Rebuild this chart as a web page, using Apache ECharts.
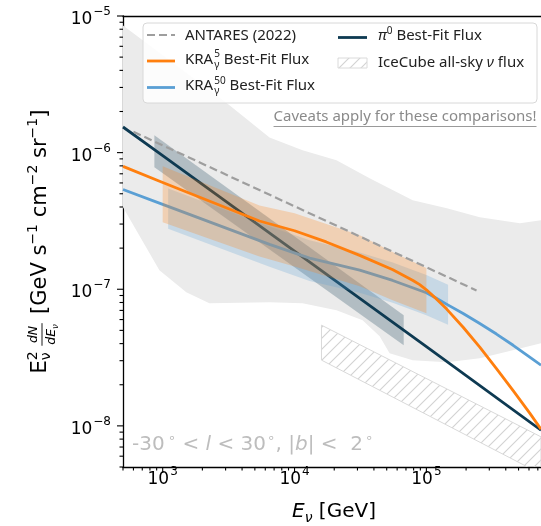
<!DOCTYPE html>
<html><head><meta charset="utf-8">
<script src="https://cdn.jsdelivr.net/npm/echarts@6.0.0/dist/echarts.min.js"></script>
<style>html,body{margin:0;padding:0;background:#fff;}#c{width:541px;height:526px;}</style>
</head><body><div id="c"></div>
<script>
// ---- axis ranges and tick labels ----
const X_MIN = 500, X_MAX = 7.4e5, Y_MIN = 5e-9, Y_MAX = 1e-5;
const xTickValues = [1e3, 1e4, 1e5];
const xTickExps = ['3', '4', '5'];
const yTickValues = [1e-8, 1e-7, 1e-6, 1e-5];
const yTickExps = ['\u22128', '\u22127', '\u22126', '\u22125'];

// ---- best-fit lines ----
const antaresE = [600, 2.4e5];
const antaresF = [1.42e-6, 9.8e-8];
const pi0E = [500, 1e3, 1e4, 1e5, 7.4e5];
const pi0F = [1.54e-6, 9.5e-7, 1.9e-7, 3.8e-8, 9.3e-9];
const kra5E = [500, 1e3, 5.42e3, 1e4, 1.74e4, 3.12e4, 5.57e4, 7.91e4, 8.9e4, 1e5, 1.19e5, 1.42e5, 1.9e5, 2.54e5, 3.4e5, 4.55e5, 6.08e5, 7.4e5];
const kra5F = [7.93e-7, 6.05e-7, 3.16e-7, 2.68e-7, 2.22e-7, 1.77e-7, 1.39e-7, 1.16e-7, 1.08e-7, 9.91e-8, 8.5e-8, 7.19e-8, 5.27e-8, 3.77e-8, 2.62e-8, 1.81e-8, 1.24e-8, 9.46e-9];
const kra50E = [500, 1e3, 6.46e3, 1.3e4, 3.12e4, 5.55e4, 1e5, 1.19e5, 1.42e5, 1.9e5, 2.54e5, 3.4e5, 4.55e5, 6.08e5, 7.4e5];
const kra50F = [5.37e-7, 4.18e-7, 2.13e-7, 1.69e-7, 1.38e-7, 1.16e-7, 9.42e-8, 8.6e-8, 7.78e-8, 6.64e-8, 5.61e-8, 4.70e-8, 3.89e-8, 3.18e-8, 2.78e-8];

// ---- uncertainty bands ----
const pi0BandE = [865, 6.73e4];
const pi0BandHi = [1.34e-6, 6.46e-8];
const pi0BandLo = [7.8e-7, 3.89e-8];
const kra5BandE = [1e3, 5.42e3, 1e4, 3.12e4, 5.55e4, 1e5];
const kra5BandHi = [7.94e-7, 4.11e-7, 3.6e-7, 2.48e-7, 1.87e-7, 1.43e-7];
const kra5BandLo = [3.09e-7, 1.74e-7, 1.47e-7, 1.05e-7, 8.3e-8, 6.67e-8];
const kra50BandE = [1.1e3, 6.46e3, 1.3e4, 3.12e4, 5.55e4, 1e5, 1.46e5];
const kra50BandHi = [5.46e-7, 2.88e-7, 2.28e-7, 1.86e-7, 1.57e-7, 1.27e-7, 1.08e-7];
const kra50BandLo = [2.77e-7, 1.46e-7, 1.15e-7, 9.42e-8, 7.96e-8, 6.44e-8, 5.5e-8];
const iceE = [1.6e4, 7.4e5];
const iceHi = [5.46e-8, 8.31e-9];
const iceLo = [3.03e-8, 4.45e-9];

// ---- grey envelope ----
const envHiE = [500, 3.21e3, 6.46e3, 1.15e4, 2.08e4, 3.71e4, 7.87e4, 1.43e5, 2.54e5, 5.11e5, 7.4e5];
const envHiF = [8.53e-6, 2.22e-6, 1.29e-6, 1.04e-6, 8.79e-7, 6.49e-7, 4.48e-7, 3.92e-7, 3.37e-7, 3.04e-7, 3.2e-7];
const envLoE = [500, 944, 1.51e3, 2.26e3, 6.46e3, 1.15e4, 2.08e4, 3.28e4, 4.42e4, 5.26e4, 7.87e4, 1.43e5, 2.54e5, 4.52e5, 7.4e5];
const envLoF = [3.98e-7, 1.38e-7, 9.51e-8, 7.91e-8, 8.04e-8, 7.91e-8, 7.02e-8, 5.93e-8, 4.53e-8, 3.4e-8, 3.02e-8, 2.92e-8, 3.13e-8, 3.58e-8, 4.03e-8];

// ---- colours ----
const C_ORANGE = '#ff7f0e', C_BLUE = '#5a9fd4', C_DARK = '#0e3a52', C_ANT = '#9e9e9e';

const MATH = '"DejaVu Sans"', LEG = '"Noto Sans"';
const mctx = document.createElement('canvas').getContext('2d');
function fontStr(size, italic, fam) { return (italic ? 'italic ' : '') + size + 'px ' + fam; }
function tw(t, f) { mctx.font = f; return mctx.measureText(t).width; }
function txt(x, y, t, f, fill, align) {
  return { type: 'text', x: x, y: y, z: 100, silent: true,
    style: { text: t, font: f, fill: fill, align: align || 'left', verticalAlign: 'middle',
      textAlign: align || 'left', textVerticalAlign: 'middle' } };
}
// lay out pieces on a common baseline (y=0)
function mathRow(pieces, fam, color) {
  let cur = 0, lastStart = 0; const els = [];
  pieces.forEach(p => {
    if (p.gap) { cur += p.gap; return; }
    if (p.frac) {
      const fn = fontStr(p.size, true, fam), fs = fontStr(p.subSize, true, fam);
      const wn = tw(p.num, fn), wd = tw(p.den, fn) + tw(p.sub, fs);
      const W = Math.max(wn, wd) + 3;
      els.push(txt(cur + (W - wn) / 2, p.numBase - 0.35 * p.size, p.num, fn, color));
      const dx = cur + (W - wd) / 2;
      els.push(txt(dx, p.denBase - 0.35 * p.size, p.den, fn, color));
      els.push(txt(dx + tw(p.den, fn), p.denBase + 2.5 - 0.35 * p.subSize, p.sub, fs, color));
      els.push({ type: 'line', z: 100, silent: true, shape: { x1: cur + 0.5, y1: p.bar, x2: cur + W - 0.5, y2: p.bar }, style: { stroke: color, lineWidth: 0.9 } });
      cur += W; lastStart = cur; return;
    }
    const f = fontStr(p.size, p.italic, fam);
    const w = tw(p.t, f);
    const x = p.stack ? lastStart : cur;
    if (!p.stack) lastStart = cur;
    els.push(txt(x, (p.dy || 0) - 0.35 * p.size, p.t, f, color));
    cur = Math.max(cur, x + w);
  });
  return { els, width: cur };
}
function shift(els, dx, dy) {
  els.forEach(e => {
    if (e.type === 'line') { e.shape.x1 += dx; e.shape.x2 += dx; e.shape.y1 += dy; e.shape.y2 += dy; }
    else { e.x += dx; e.y += dy; }
  });
  return els;
}

// hatch pattern
const hatch = document.createElement('canvas'); hatch.width = 11; hatch.height = 11;
(function () { const g = hatch.getContext('2d'); g.strokeStyle = '#d2d2d2'; g.lineWidth = 1.1;
  g.beginPath(); g.moveTo(-1, 12); g.lineTo(12, -1); g.moveTo(-6.5, 6.5); g.lineTo(6.5, -6.5); g.moveTo(4.5, 17.5); g.lineTo(17.5, 4.5); g.stroke(); })();
const HATCH = { image: hatch, repeat: 'repeat' };

function polySeries(name, hiE, hiF, loE, loF, style, z) {
  const pts = hiE.map((e, i) => [e, hiF[i]]).concat(loE.map((e, i) => [e, loF[i]]).reverse());
  return { type: 'custom', name, z, silent: true, clip: true, coordinateSystem: 'cartesian2d', data: pts,
    renderItem(params, api) {
      if (params.dataIndex !== 0) return null;
      return { type: 'polygon', shape: { points: pts.map(p => api.coord(p)) }, style };
    } };
}
function lineSeries(name, E, F, color, z, extra) {
  return Object.assign({ type: 'line', name, data: E.map((e, i) => [e, F[i]]), symbol: 'none', showSymbol: false,
    smooth: false, lineStyle: { color, width: 2.8, join: 'round' }, z, silent: true, clip: true }, extra || {});
}

// ticks
function minorTicks(min, max) {
  const out = [];
  for (let k = Math.floor(Math.log10(min)) - 1; k <= Math.ceil(Math.log10(max)); k++)
    for (let m = 2; m <= 9; m++) { const v = m * Math.pow(10, k); if (v >= min * 0.9999 && v <= max * 1.0001) out.push(v); }
  return out;
}
const tickData = [];
xTickValues.forEach(v => tickData.push([v, Y_MIN, 0]));
minorTicks(X_MIN, X_MAX).forEach(v => tickData.push([v, Y_MIN, 1]));
yTickValues.forEach(v => tickData.push([X_MIN, v, 2]));
minorTicks(Y_MIN, Y_MAX).forEach(v => tickData.push([X_MIN, v, 3]));

const labelData = [];
xTickValues.forEach((v, i) => labelData.push([v, Y_MIN, 0, i]));
yTickValues.forEach((v, i) => labelData.push([X_MIN, v, 1, i]));

const F10 = fontStr(17, false, MATH), FEXP = fontStr(12, false, MATH);

const series = [
  polySeries('envelope', envHiE, envHiF, envLoE, envLoF, { fill: '#ebebeb' }, 1),
  polySeries('IceCube all-sky', iceE, iceHi, iceE, iceLo, { fill: HATCH, stroke: '#d9d9d9', lineWidth: 1 }, 2),
  polySeries('pi0 band', pi0BandE, pi0BandHi, pi0BandE, pi0BandLo, { fill: 'rgba(14,58,82,0.26)' }, 3),
  lineSeries('pi0', pi0E, pi0F, C_DARK, 4),
  polySeries('KRA50 band', kra50BandE, kra50BandHi, kra50BandE, kra50BandLo, { fill: 'rgba(90,159,212,0.25)' }, 5),
  lineSeries('KRA50', kra50E, kra50F, C_BLUE, 6),
  polySeries('KRA5 band', kra5BandE, kra5BandHi, kra5BandE, kra5BandLo, { fill: 'rgba(255,127,14,0.25)' }, 7),
  lineSeries('ANTARES', antaresE, antaresF, C_ANT, 8, { lineStyle: { color: C_ANT, width: 2.2, type: [8, 4] } }),
  lineSeries('KRA5', kra5E, kra5F, C_ORANGE, 9),
  { type: 'custom', name: 'ticks', z: 20, silent: true, clip: false, coordinateSystem: 'cartesian2d', data: tickData,
    renderItem(params, api) {
      const p = api.coord([api.value(0), api.value(1)]); const k = api.value(2);
      const s = { stroke: '#000', lineWidth: 1.1 };
      if (k < 2) { const L = k === 0 ? 6 : 3.5; return { type: 'line', shape: { x1: p[0], y1: p[1], x2: p[0], y2: p[1] + L }, style: s }; }
      const L = k === 2 ? 6 : 3.5; return { type: 'line', shape: { x1: p[0] - L, y1: p[1], x2: p[0], y2: p[1] }, style: s };
    } },
  { type: 'custom', name: 'ticklabels', z: 20, silent: true, clip: false, coordinateSystem: 'cartesian2d', data: labelData,
    renderItem(params, api) {
      const p = api.coord([api.value(0), api.value(1)]); const k = api.value(2), i = api.value(3);
      const exp = k === 0 ? xTickExps[i] : yTickExps[i];
      const w10 = tw('10', F10), we = tw(exp, FEXP);
      const mk = (x, y, t, f) => ({ type: 'text', x, y, style: { text: t, font: f, fill: '#000', align: 'left', verticalAlign: 'middle', textAlign: 'left', textVerticalAlign: 'middle' } });
      if (k === 0) {
        const x0 = p[0] - (w10 + we + 1) / 2;
        return { type: 'group', children: [mk(x0, p[1] + 12.5, '10', F10), mk(x0 + w10 + 1, p[1] + 5, exp, FEXP)] };
      }
      const xr = p[0] - 12;
      return { type: 'group', children: [mk(xr - we - w10 - 1, p[1] + 3.5, '10', F10), mk(xr - we, p[1] - 4, exp, FEXP)] };
    } }
];

// ---- graphic texts ----
const graphic = [];
// y-axis title
(function () {
  const r = mathRow([
    { t: 'E', size: 21 }, { t: '2', size: 14, dy: -9.5 }, { t: '\u03bd', size: 14, dy: 4, stack: true }, { gap: 5 },
    { frac: true, num: 'dN', den: 'dE', sub: '\u03bd', size: 12.5, subSize: 8.5, numBase: -9, denBase: 8.5, bar: -5.5 },
    { gap: 2 },
    { t: ' [GeV s', size: 21 }, { t: '\u22121', size: 14, dy: -9.5 }, { t: ' cm', size: 21 }, { t: '\u22122', size: 14, dy: -9.5 },
    { t: ' sr', size: 21 }, { t: '\u22121', size: 14, dy: -9.5 }, { t: ']', size: 21 }
  ], MATH, '#000');
  shift(r.els, -r.width / 2, 0);
  graphic.push({ type: 'group', x: 47.5, y: 241.5, rotation: Math.PI / 2, z: 100, children: r.els });
})();
// x-axis title
(function () {
  const r = mathRow([{ t: 'E', size: 20, italic: true }, { t: '\u03bd', size: 14, italic: true, dy: 4 }, { t: ' [GeV]', size: 20 }], MATH, '#000');
  shift(r.els, 334 - r.width / 2, 519);
  graphic.push(...r.els);
})();
// region annotation
(function () {
  const S = 20, s = 13.5, up = -8.5;
  const r = mathRow([
    { t: '-30', size: S }, { gap: 3 }, { t: '\u2218', size: s, dy: up }, { t: ' < ', size: S }, { t: 'l', size: S, italic: true },
    { t: ' < 30', size: S }, { gap: 1 }, { t: '\u2218', size: s, dy: up }, { t: ', |', size: S }, { t: 'b', size: S, italic: true },
    { t: '| <  2', size: S }, { gap: 2 }, { t: '\u2218', size: s, dy: up }
  ], MATH, '#bdbdbd');
  shift(r.els, 132, 452);
  graphic.push(...r.els);
})();
// legend
graphic.push({ type: 'rect', z: 99, silent: true, shape: { x: 143, y: 23, width: 394, height: 80, r: 4 },
  style: { fill: 'rgba(255,255,255,0.85)', stroke: '#d8d8d8', lineWidth: 1 } });
function legLine(y, color, dash, x1, x2) {
  graphic.push({ type: 'line', z: 101, silent: true, shape: { x1: x1 || 147, y1: y, x2: x2 || 175, y2: y },
    style: { stroke: color, lineWidth: dash ? 2.2 : 2.8, lineDash: dash || null } });
}
function legText(pieces, x, mid) {
  const r = mathRow(pieces, LEG, '#222');
  shift(r.els, x, mid + 0.35 * 15);
  graphic.push(...r.els);
}
legLine(35, C_ANT, [8, 4]);
legText([{ t: 'ANTARES (2022)', size: 15 }], 185, 35.5);
legLine(61, C_ORANGE);
legText([{ t: 'KRA', size: 15 }, { gap: 1 }, { t: '5', size: 10, dy: -7 }, { t: '\u03b3', size: 10, dy: 3.5, stack: true }, { t: ' Best-Fit Flux', size: 15 }], 185, 59.5);
legLine(87.5, C_BLUE);
legText([{ t: 'KRA', size: 15 }, { gap: 1 }, { t: '50', size: 10, dy: -7 }, { t: '\u03b3', size: 10, dy: 3.5, stack: true }, { t: ' Best-Fit Flux', size: 15 }], 185, 86);
legLine(37.5, C_DARK, null, 338, 367);
legText([{ t: '\u03c0', size: 15, italic: true }, { t: '0', size: 10, dy: -7 }, { t: ' Best-Fit Flux', size: 15 }], 378, 36);
graphic.push({ type: 'rect', z: 101, silent: true, shape: { x: 338, y: 58, width: 29, height: 10 },
  style: { fill: HATCH, stroke: '#dadada', lineWidth: 1 } });
legText([{ t: 'IceCube all-sky ', size: 15 }, { t: '\u03bd', size: 15, italic: true }, { t: ' flux', size: 15 }], 378, 63);
// caveats
graphic.push(txt(536.5, 117, 'Caveats apply for these comparisons!', fontStr(15, false, LEG), '#8a8a8a', 'right'));
(function () {
  const w = tw('Caveats apply for these comparisons!', fontStr(15, false, LEG));
  graphic.push({ type: 'line', z: 100, silent: true, shape: { x1: 536.5 - w, y1: 126.5, x2: 536.5, y2: 126.5 }, style: { stroke: '#9a9a9a', lineWidth: 1 } });
})();

const axisCommon = { axisTick: { show: false }, axisLabel: { show: false }, splitLine: { show: false }, minorTick: { show: false } };
const option = {
  animation: false,
  grid: { left: 123, right: 0, top: 16, bottom: 59, show: false },
  xAxis: [
    Object.assign({ type: 'log', logBase: 10, min: X_MIN, max: X_MAX, axisLine: { show: true, onZero: false, lineStyle: { color: '#000', width: 1.3 } } }, axisCommon),
    Object.assign({ type: 'log', logBase: 10, min: X_MIN, max: X_MAX, position: 'top', axisLine: { show: true, onZero: false, lineStyle: { color: '#000', width: 1.3 } } }, axisCommon)
  ],
  yAxis: [Object.assign({ type: 'log', logBase: 10, min: Y_MIN, max: Y_MAX, axisLine: { show: true, onZero: false, lineStyle: { color: '#000', width: 1.3 } } }, axisCommon)],
  series,
  graphic
};
const chart = echarts.init(document.getElementById('c'), null, { renderer: 'canvas', width: 541, height: 526 });
chart.setOption(option);
</script></body></html>
